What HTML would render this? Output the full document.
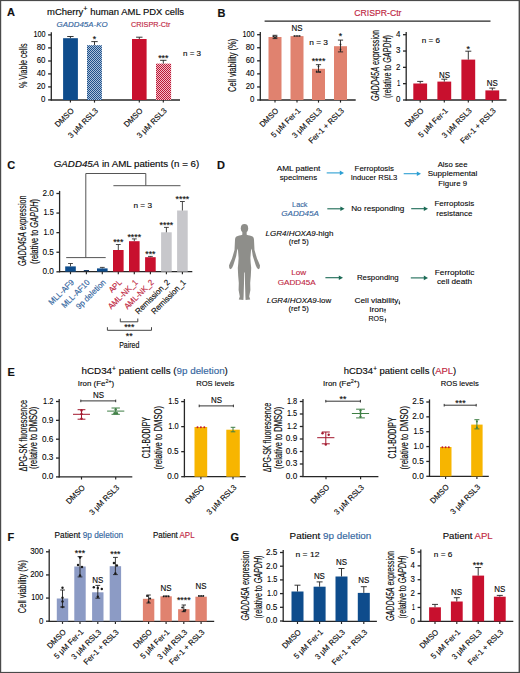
<!DOCTYPE html>
<html><head><meta charset="utf-8"><style>
html,body{margin:0;padding:0;background:#fff;}
svg{display:block;font-family:"Liberation Sans", sans-serif;}
</style></head><body>
<svg width="520" height="673" viewBox="0 0 520 673">
<defs>
<pattern id="hb" width="2" height="2" patternUnits="userSpaceOnUse"><rect width="2" height="2" fill="#a9c1dc"/><rect width="1" height="1" fill="#1f4f88"/><rect x="1" y="1" width="1" height="1" fill="#1f4f88"/></pattern>
<pattern id="rb" width="2" height="2" patternUnits="userSpaceOnUse"><rect width="2" height="2" fill="#f6bcc8"/><rect width="1" height="1" fill="#b81a36"/><rect x="1" y="1" width="1" height="1" fill="#b81a36"/></pattern>
</defs>
<rect x="0" y="0" width="520" height="673" fill="#fff"/>
<text x="7.00" y="16.20" font-size="11" fill="#111" font-weight="bold" stroke="#111" stroke-width="0.15">A</text>
<text x="47.00" y="14.90" font-size="8.4" textLength="137.00" lengthAdjust="spacingAndGlyphs" stroke="#2a2a2a" stroke-width="0.15">mCherry<tspan font-size="6.5" dy="-3.6">+</tspan><tspan dy="3.6"> human AML PDX cells</tspan></text>
<text x="56.60" y="26.50" font-size="8.0" fill="#3466a0" font-style="italic" textLength="51.00" lengthAdjust="spacingAndGlyphs" stroke="#3466a0" stroke-width="0.15">GADD45A-KO</text>
<text x="131.10" y="26.50" font-size="8.0" fill="#c0263f" textLength="39.40" lengthAdjust="spacingAndGlyphs" stroke="#c0263f" stroke-width="0.15">CRISPR-Ctr</text>
<line x1="51.30" y1="32.30" x2="51.30" y2="100.50" stroke="#262626" stroke-width="1.3"/>
<line x1="48.10" y1="34.90" x2="51.30" y2="34.90" stroke="#262626" stroke-width="1.3"/>
<text x="45.50" y="37.28" font-size="8.6" text-anchor="end" textLength="12.10" lengthAdjust="spacingAndGlyphs" stroke="#2a2a2a" stroke-width="0.12">100</text>
<line x1="48.10" y1="47.90" x2="51.30" y2="47.90" stroke="#262626" stroke-width="1.3"/>
<text x="45.50" y="50.28" font-size="8.6" text-anchor="end" textLength="8.80" lengthAdjust="spacingAndGlyphs" stroke="#2a2a2a" stroke-width="0.12">80</text>
<line x1="48.10" y1="61.00" x2="51.30" y2="61.00" stroke="#262626" stroke-width="1.3"/>
<text x="45.50" y="63.38" font-size="8.6" text-anchor="end" textLength="8.80" lengthAdjust="spacingAndGlyphs" stroke="#2a2a2a" stroke-width="0.12">60</text>
<line x1="48.10" y1="73.90" x2="51.30" y2="73.90" stroke="#262626" stroke-width="1.3"/>
<text x="45.50" y="76.28" font-size="8.6" text-anchor="end" textLength="8.80" lengthAdjust="spacingAndGlyphs" stroke="#2a2a2a" stroke-width="0.12">40</text>
<line x1="48.10" y1="86.90" x2="51.30" y2="86.90" stroke="#262626" stroke-width="1.3"/>
<text x="45.50" y="89.28" font-size="8.6" text-anchor="end" textLength="8.80" lengthAdjust="spacingAndGlyphs" stroke="#2a2a2a" stroke-width="0.12">20</text>
<line x1="48.10" y1="99.90" x2="51.30" y2="99.90" stroke="#262626" stroke-width="1.3"/>
<text x="45.50" y="102.28" font-size="8.6" text-anchor="end" textLength="4.40" lengthAdjust="spacingAndGlyphs" stroke="#2a2a2a" stroke-width="0.12">0</text>
<text x="27.00" y="65.80" font-size="10.6" text-anchor="middle" textLength="44.60" lengthAdjust="spacingAndGlyphs" transform="rotate(-90 27.00 65.80)" stroke="#2a2a2a" stroke-width="0.15">% Viable cells</text>
<line x1="50.80" y1="100.00" x2="180.00" y2="100.00" stroke="#262626" stroke-width="1.3"/>
<line x1="70.40" y1="100.00" x2="70.40" y2="102.60" stroke="#262626" stroke-width="1.1700000000000002"/>
<line x1="94.50" y1="100.00" x2="94.50" y2="102.60" stroke="#262626" stroke-width="1.1700000000000002"/>
<line x1="139.30" y1="100.00" x2="139.30" y2="102.60" stroke="#262626" stroke-width="1.1700000000000002"/>
<line x1="163.30" y1="100.00" x2="163.30" y2="102.60" stroke="#262626" stroke-width="1.1700000000000002"/>
<rect x="63.10" y="38.20" width="14.80" height="61.80" fill="#0e4c8c"/>
<line x1="70.40" y1="36.50" x2="70.40" y2="38.20" stroke="#222" stroke-width="0.9"/>
<line x1="67.20" y1="36.50" x2="73.60" y2="36.50" stroke="#222" stroke-width="0.9"/>
<rect x="87.00" y="45.20" width="14.90" height="54.80" fill="url(#hb)"/>
<line x1="94.50" y1="41.60" x2="94.50" y2="45.20" stroke="#222" stroke-width="0.9"/>
<line x1="91.30" y1="41.60" x2="97.70" y2="41.60" stroke="#222" stroke-width="0.9"/>
<text x="94.50" y="42.08" font-size="8.8" text-anchor="middle" stroke="#2a2a2a" stroke-width="0.15">*</text>
<rect x="132.00" y="39.00" width="14.60" height="61.00" fill="#c8102e"/>
<line x1="139.30" y1="37.20" x2="139.30" y2="39.00" stroke="#222" stroke-width="0.9"/>
<line x1="136.10" y1="37.20" x2="142.50" y2="37.20" stroke="#222" stroke-width="0.9"/>
<rect x="156.00" y="63.60" width="15.10" height="36.40" fill="url(#rb)"/>
<line x1="163.30" y1="60.30" x2="163.30" y2="63.60" stroke="#222" stroke-width="0.9"/>
<line x1="160.10" y1="60.30" x2="166.50" y2="60.30" stroke="#222" stroke-width="0.9"/>
<text x="163.30" y="61.08" font-size="8.8" text-anchor="middle" stroke="#2a2a2a" stroke-width="0.15">***</text>
<text x="183.00" y="55.80" font-size="7.6" textLength="18.00" lengthAdjust="spacingAndGlyphs" stroke="#2a2a2a" stroke-width="0.15">n = 3</text>
<text x="74.40" y="111.30" font-size="8.0" text-anchor="end" textLength="23.04" lengthAdjust="spacingAndGlyphs" transform="rotate(-45 74.40 111.30)" stroke="#2a2a2a" stroke-width="0.15">DMSO</text>
<text x="98.50" y="111.30" font-size="8.0" text-anchor="end" textLength="38.57" lengthAdjust="spacingAndGlyphs" transform="rotate(-45 98.50 111.30)" stroke="#2a2a2a" stroke-width="0.15">3 μM RSL3</text>
<text x="143.30" y="111.30" font-size="8.0" text-anchor="end" textLength="23.04" lengthAdjust="spacingAndGlyphs" transform="rotate(-45 143.30 111.30)" stroke="#2a2a2a" stroke-width="0.15">DMSO</text>
<text x="167.30" y="111.30" font-size="8.0" text-anchor="end" textLength="38.57" lengthAdjust="spacingAndGlyphs" transform="rotate(-45 167.30 111.30)" stroke="#2a2a2a" stroke-width="0.15">3 μM RSL3</text>
<text x="217.40" y="17.30" font-size="11" fill="#111" font-weight="bold" stroke="#111" stroke-width="0.15">B</text>
<text x="354.20" y="15.80" font-size="9.2" fill="#c0263f" textLength="47.30" lengthAdjust="spacingAndGlyphs" stroke="#c0263f" stroke-width="0.15">CRISPR-Ctr</text>
<line x1="264.60" y1="21.10" x2="490.50" y2="21.10" stroke="#262626" stroke-width="1.1"/>
<line x1="260.30" y1="32.10" x2="260.30" y2="100.50" stroke="#262626" stroke-width="1.3"/>
<line x1="257.10" y1="34.70" x2="260.30" y2="34.70" stroke="#262626" stroke-width="1.3"/>
<text x="254.50" y="37.08" font-size="8.6" text-anchor="end" textLength="12.10" lengthAdjust="spacingAndGlyphs" stroke="#2a2a2a" stroke-width="0.12">100</text>
<line x1="257.10" y1="47.76" x2="260.30" y2="47.76" stroke="#262626" stroke-width="1.3"/>
<text x="254.50" y="50.14" font-size="8.6" text-anchor="end" textLength="8.80" lengthAdjust="spacingAndGlyphs" stroke="#2a2a2a" stroke-width="0.12">80</text>
<line x1="257.10" y1="60.82" x2="260.30" y2="60.82" stroke="#262626" stroke-width="1.3"/>
<text x="254.50" y="63.20" font-size="8.6" text-anchor="end" textLength="8.80" lengthAdjust="spacingAndGlyphs" stroke="#2a2a2a" stroke-width="0.12">60</text>
<line x1="257.10" y1="73.88" x2="260.30" y2="73.88" stroke="#262626" stroke-width="1.3"/>
<text x="254.50" y="76.26" font-size="8.6" text-anchor="end" textLength="8.80" lengthAdjust="spacingAndGlyphs" stroke="#2a2a2a" stroke-width="0.12">40</text>
<line x1="257.10" y1="86.94" x2="260.30" y2="86.94" stroke="#262626" stroke-width="1.3"/>
<text x="254.50" y="89.32" font-size="8.6" text-anchor="end" textLength="8.80" lengthAdjust="spacingAndGlyphs" stroke="#2a2a2a" stroke-width="0.12">20</text>
<line x1="257.10" y1="100.00" x2="260.30" y2="100.00" stroke="#262626" stroke-width="1.3"/>
<text x="254.50" y="102.38" font-size="8.6" text-anchor="end" textLength="4.40" lengthAdjust="spacingAndGlyphs" stroke="#2a2a2a" stroke-width="0.12">0</text>
<text x="235.80" y="65.40" font-size="10.2" text-anchor="middle" textLength="53.20" lengthAdjust="spacingAndGlyphs" transform="rotate(-90 235.80 65.40)" stroke="#2a2a2a" stroke-width="0.15">Cell viability (%)</text>
<line x1="259.80" y1="100.00" x2="355.70" y2="100.00" stroke="#262626" stroke-width="1.3"/>
<line x1="275.00" y1="100.00" x2="275.00" y2="102.60" stroke="#262626" stroke-width="1.1700000000000002"/>
<line x1="297.00" y1="100.00" x2="297.00" y2="102.60" stroke="#262626" stroke-width="1.1700000000000002"/>
<line x1="318.50" y1="100.00" x2="318.50" y2="102.60" stroke="#262626" stroke-width="1.1700000000000002"/>
<line x1="340.50" y1="100.00" x2="340.50" y2="102.60" stroke="#262626" stroke-width="1.1700000000000002"/>
<rect x="268.50" y="37.00" width="13.00" height="63.00" fill="#e0826f"/>
<rect x="290.50" y="36.10" width="13.00" height="63.90" fill="#e0826f"/>
<rect x="312.00" y="68.80" width="13.00" height="31.20" fill="#e0826f"/>
<rect x="334.00" y="46.20" width="13.00" height="53.80" fill="#e0826f"/>
<line x1="275.00" y1="35.30" x2="275.00" y2="38.60" stroke="#222" stroke-width="0.9"/>
<line x1="272.60" y1="35.30" x2="277.40" y2="35.30" stroke="#222" stroke-width="0.9"/>
<line x1="272.60" y1="38.60" x2="277.40" y2="38.60" stroke="#222" stroke-width="0.9"/>
<circle cx="273.40" cy="36.50" r="0.9" fill="#222"/>
<circle cx="275.00" cy="37.50" r="0.9" fill="#222"/>
<circle cx="276.60" cy="36.80" r="0.9" fill="#222"/>
<line x1="293.50" y1="36.00" x2="300.50" y2="36.00" stroke="#222" stroke-width="0.9"/>
<circle cx="294.50" cy="36.00" r="0.8" fill="#222"/>
<circle cx="297.00" cy="36.00" r="0.8" fill="#222"/>
<circle cx="299.50" cy="36.00" r="0.8" fill="#222"/>
<line x1="318.50" y1="64.70" x2="318.50" y2="72.20" stroke="#222" stroke-width="0.9"/>
<line x1="315.90" y1="64.70" x2="321.10" y2="64.70" stroke="#222" stroke-width="0.9"/>
<line x1="315.90" y1="72.20" x2="321.10" y2="72.20" stroke="#222" stroke-width="0.9"/>
<circle cx="316.70" cy="71.50" r="0.9" fill="#222"/>
<circle cx="320.00" cy="71.80" r="0.9" fill="#222"/>
<circle cx="318.50" cy="66.50" r="0.9" fill="#222"/>
<line x1="340.50" y1="40.10" x2="340.50" y2="51.90" stroke="#222" stroke-width="0.9"/>
<line x1="337.90" y1="40.10" x2="343.10" y2="40.10" stroke="#222" stroke-width="0.9"/>
<line x1="337.90" y1="51.90" x2="343.10" y2="51.90" stroke="#222" stroke-width="0.9"/>
<circle cx="340.50" cy="44.50" r="0.9" fill="#222"/>
<circle cx="340.50" cy="49.50" r="0.9" fill="#222"/>
<text x="297.00" y="30.90" font-size="8.2" text-anchor="middle" textLength="11.00" lengthAdjust="spacingAndGlyphs" stroke="#2a2a2a" stroke-width="0.15">NS</text>
<text x="318.50" y="63.78" font-size="8.8" text-anchor="middle" stroke="#2a2a2a" stroke-width="0.15">****</text>
<text x="340.50" y="39.08" font-size="8.8" text-anchor="middle" stroke="#2a2a2a" stroke-width="0.15">*</text>
<text x="309.20" y="45.20" font-size="7.8" textLength="18.80" lengthAdjust="spacingAndGlyphs" stroke="#2a2a2a" stroke-width="0.15">n = 3</text>
<text x="279.00" y="111.30" font-size="8.0" text-anchor="end" textLength="23.04" lengthAdjust="spacingAndGlyphs" transform="rotate(-45 279.00 111.30)" stroke="#2a2a2a" stroke-width="0.15">DMSO</text>
<text x="301.00" y="111.30" font-size="8.0" text-anchor="end" textLength="37.71" lengthAdjust="spacingAndGlyphs" transform="rotate(-45 301.00 111.30)" stroke="#2a2a2a" stroke-width="0.15">5 μM Fer-1</text>
<text x="322.50" y="111.30" font-size="8.0" text-anchor="end" textLength="38.57" lengthAdjust="spacingAndGlyphs" transform="rotate(-45 322.50 111.30)" stroke="#2a2a2a" stroke-width="0.15">3 μM RSL3</text>
<text x="344.50" y="111.30" font-size="8.0" text-anchor="end" textLength="46.31" lengthAdjust="spacingAndGlyphs" transform="rotate(-45 344.50 111.30)" stroke="#2a2a2a" stroke-width="0.15">Fer-1 + RSL3</text>
<line x1="406.20" y1="32.10" x2="406.20" y2="100.50" stroke="#262626" stroke-width="1.3"/>
<line x1="403.00" y1="34.70" x2="406.20" y2="34.70" stroke="#262626" stroke-width="1.3"/>
<text x="400.40" y="37.08" font-size="8.6" text-anchor="end" textLength="4.40" lengthAdjust="spacingAndGlyphs" stroke="#2a2a2a" stroke-width="0.12">4</text>
<line x1="403.00" y1="51.03" x2="406.20" y2="51.03" stroke="#262626" stroke-width="1.3"/>
<text x="400.40" y="53.40" font-size="8.6" text-anchor="end" textLength="4.40" lengthAdjust="spacingAndGlyphs" stroke="#2a2a2a" stroke-width="0.12">3</text>
<line x1="403.00" y1="67.35" x2="406.20" y2="67.35" stroke="#262626" stroke-width="1.3"/>
<text x="400.40" y="69.73" font-size="8.6" text-anchor="end" textLength="4.40" lengthAdjust="spacingAndGlyphs" stroke="#2a2a2a" stroke-width="0.12">2</text>
<line x1="403.00" y1="83.67" x2="406.20" y2="83.67" stroke="#262626" stroke-width="1.3"/>
<text x="400.40" y="86.05" font-size="8.6" text-anchor="end" textLength="3.30" lengthAdjust="spacingAndGlyphs" stroke="#2a2a2a" stroke-width="0.12">1</text>
<line x1="403.00" y1="100.00" x2="406.20" y2="100.00" stroke="#262626" stroke-width="1.3"/>
<text x="400.40" y="102.38" font-size="8.6" text-anchor="end" textLength="4.40" lengthAdjust="spacingAndGlyphs" stroke="#2a2a2a" stroke-width="0.12">0</text>
<text x="378.60" y="65.40" font-size="10.0" text-anchor="middle" textLength="71.00" lengthAdjust="spacingAndGlyphs" transform="rotate(-90 378.60 65.40)" stroke="#2a2a2a" stroke-width="0.15"><tspan font-style="italic">GADD45A</tspan> expression</text>
<text x="390.60" y="66.50" font-size="10.0" text-anchor="middle" textLength="63.00" lengthAdjust="spacingAndGlyphs" transform="rotate(-90 390.60 66.50)" stroke="#2a2a2a" stroke-width="0.15">(relative to <tspan font-style="italic">GAPDH</tspan>)</text>
<line x1="405.70" y1="100.00" x2="506.50" y2="100.00" stroke="#262626" stroke-width="1.3"/>
<line x1="420.20" y1="100.00" x2="420.20" y2="102.60" stroke="#262626" stroke-width="1.1700000000000002"/>
<line x1="444.30" y1="100.00" x2="444.30" y2="102.60" stroke="#262626" stroke-width="1.1700000000000002"/>
<line x1="468.30" y1="100.00" x2="468.30" y2="102.60" stroke="#262626" stroke-width="1.1700000000000002"/>
<line x1="492.30" y1="100.00" x2="492.30" y2="102.60" stroke="#262626" stroke-width="1.1700000000000002"/>
<rect x="413.30" y="83.50" width="13.80" height="16.50" fill="#c8102e"/>
<line x1="420.20" y1="81.40" x2="420.20" y2="83.50" stroke="#222" stroke-width="0.9"/>
<line x1="417.20" y1="81.40" x2="423.20" y2="81.40" stroke="#222" stroke-width="0.9"/>
<rect x="437.40" y="81.60" width="13.80" height="18.40" fill="#c8102e"/>
<line x1="444.30" y1="79.20" x2="444.30" y2="81.60" stroke="#222" stroke-width="0.9"/>
<line x1="441.30" y1="79.20" x2="447.30" y2="79.20" stroke="#222" stroke-width="0.9"/>
<rect x="461.40" y="59.60" width="13.80" height="40.40" fill="#c8102e"/>
<line x1="468.30" y1="51.20" x2="468.30" y2="59.60" stroke="#222" stroke-width="0.9"/>
<line x1="465.30" y1="51.20" x2="471.30" y2="51.20" stroke="#222" stroke-width="0.9"/>
<rect x="485.40" y="90.40" width="13.80" height="9.60" fill="#c8102e"/>
<line x1="492.30" y1="88.10" x2="492.30" y2="90.40" stroke="#222" stroke-width="0.9"/>
<line x1="489.30" y1="88.10" x2="495.30" y2="88.10" stroke="#222" stroke-width="0.9"/>
<text x="421.80" y="42.80" font-size="7.8" textLength="18.20" lengthAdjust="spacingAndGlyphs" stroke="#2a2a2a" stroke-width="0.15">n = 6</text>
<text x="444.60" y="77.80" font-size="8.2" text-anchor="middle" textLength="11.00" lengthAdjust="spacingAndGlyphs" stroke="#2a2a2a" stroke-width="0.15">NS</text>
<text x="468.30" y="51.88" font-size="8.8" text-anchor="middle" stroke="#2a2a2a" stroke-width="0.15">*</text>
<text x="492.30" y="86.30" font-size="8.2" text-anchor="middle" textLength="11.00" lengthAdjust="spacingAndGlyphs" stroke="#2a2a2a" stroke-width="0.15">NS</text>
<text x="424.20" y="111.30" font-size="8.0" text-anchor="end" textLength="23.04" lengthAdjust="spacingAndGlyphs" transform="rotate(-45 424.20 111.30)" stroke="#2a2a2a" stroke-width="0.15">DMSO</text>
<text x="448.30" y="111.30" font-size="8.0" text-anchor="end" textLength="37.71" lengthAdjust="spacingAndGlyphs" transform="rotate(-45 448.30 111.30)" stroke="#2a2a2a" stroke-width="0.15">5 μM Fer-1</text>
<text x="472.30" y="111.30" font-size="8.0" text-anchor="end" textLength="38.57" lengthAdjust="spacingAndGlyphs" transform="rotate(-45 472.30 111.30)" stroke="#2a2a2a" stroke-width="0.15">3 μM RSL3</text>
<text x="496.30" y="111.30" font-size="8.0" text-anchor="end" textLength="46.31" lengthAdjust="spacingAndGlyphs" transform="rotate(-45 496.30 111.30)" stroke="#2a2a2a" stroke-width="0.15">Fer-1 + RSL3</text>
<text x="7.20" y="169.30" font-size="11" fill="#111" font-weight="bold" stroke="#111" stroke-width="0.15">C</text>
<text x="53.80" y="167.40" font-size="8.6" textLength="145.40" lengthAdjust="spacingAndGlyphs" stroke="#2a2a2a" stroke-width="0.15"><tspan font-style="italic">GADD45A</tspan> in AML patients (n = 6)</text>
<path d="M85.8,257.6 V173.5 H145.8 V185.7" fill="none" stroke="#555" stroke-width="1.0" />
<line x1="113.40" y1="185.70" x2="180.50" y2="185.70" stroke="#555" stroke-width="1.0"/>
<line x1="66.20" y1="257.60" x2="105.70" y2="257.60" stroke="#555" stroke-width="1.0"/>
<line x1="59.60" y1="190.90" x2="59.60" y2="272.30" stroke="#262626" stroke-width="1.3"/>
<line x1="56.40" y1="193.50" x2="59.60" y2="193.50" stroke="#262626" stroke-width="1.3"/>
<text x="53.80" y="195.88" font-size="8.6" text-anchor="end" textLength="11.40" lengthAdjust="spacingAndGlyphs" stroke="#2a2a2a" stroke-width="0.12">2.0</text>
<line x1="56.40" y1="213.07" x2="59.60" y2="213.07" stroke="#262626" stroke-width="1.3"/>
<text x="53.80" y="215.45" font-size="8.6" text-anchor="end" textLength="10.30" lengthAdjust="spacingAndGlyphs" stroke="#2a2a2a" stroke-width="0.12">1.5</text>
<line x1="56.40" y1="232.65" x2="59.60" y2="232.65" stroke="#262626" stroke-width="1.3"/>
<text x="53.80" y="235.03" font-size="8.6" text-anchor="end" textLength="10.30" lengthAdjust="spacingAndGlyphs" stroke="#2a2a2a" stroke-width="0.12">1.0</text>
<line x1="56.40" y1="252.23" x2="59.60" y2="252.23" stroke="#262626" stroke-width="1.3"/>
<text x="53.80" y="254.60" font-size="8.6" text-anchor="end" textLength="11.40" lengthAdjust="spacingAndGlyphs" stroke="#2a2a2a" stroke-width="0.12">0.5</text>
<line x1="56.40" y1="271.80" x2="59.60" y2="271.80" stroke="#262626" stroke-width="1.3"/>
<text x="53.80" y="274.18" font-size="8.6" text-anchor="end" textLength="11.40" lengthAdjust="spacingAndGlyphs" stroke="#2a2a2a" stroke-width="0.12">0.0</text>
<text x="26.30" y="230.70" font-size="10.0" text-anchor="middle" textLength="70.60" lengthAdjust="spacingAndGlyphs" transform="rotate(-90 26.30 230.70)" stroke="#2a2a2a" stroke-width="0.15"><tspan font-style="italic">GADD45A</tspan> expression</text>
<text x="37.60" y="231.50" font-size="10.0" text-anchor="middle" textLength="65.00" lengthAdjust="spacingAndGlyphs" transform="rotate(-90 37.60 231.50)" stroke="#2a2a2a" stroke-width="0.15">(relative to <tspan font-style="italic">GAPDH</tspan>)</text>
<line x1="59.10" y1="271.60" x2="192.30" y2="271.60" stroke="#262626" stroke-width="1.3"/>
<line x1="70.50" y1="271.60" x2="70.50" y2="274.20" stroke="#262626" stroke-width="1.1700000000000002"/>
<line x1="86.40" y1="271.60" x2="86.40" y2="274.20" stroke="#262626" stroke-width="1.1700000000000002"/>
<line x1="102.30" y1="271.60" x2="102.30" y2="274.20" stroke="#262626" stroke-width="1.1700000000000002"/>
<line x1="118.30" y1="271.60" x2="118.30" y2="274.20" stroke="#262626" stroke-width="1.1700000000000002"/>
<line x1="134.30" y1="271.60" x2="134.30" y2="274.20" stroke="#262626" stroke-width="1.1700000000000002"/>
<line x1="150.40" y1="271.60" x2="150.40" y2="274.20" stroke="#262626" stroke-width="1.1700000000000002"/>
<line x1="166.40" y1="271.60" x2="166.40" y2="274.20" stroke="#262626" stroke-width="1.1700000000000002"/>
<line x1="182.40" y1="271.60" x2="182.40" y2="274.20" stroke="#262626" stroke-width="1.1700000000000002"/>
<rect x="65.20" y="266.40" width="10.60" height="5.20" fill="#0e4c8c"/>
<line x1="70.50" y1="263.50" x2="70.50" y2="266.40" stroke="#333" stroke-width="0.9"/>
<line x1="68.10" y1="263.50" x2="72.90" y2="263.50" stroke="#333" stroke-width="0.9"/>
<rect x="83.80" y="270.00" width="5.20" height="1.20" fill="#1d3f6a"/>
<rect x="97.00" y="268.40" width="10.60" height="3.20" fill="#0e4c8c"/>
<line x1="102.30" y1="267.40" x2="102.30" y2="268.40" stroke="#333" stroke-width="0.9"/>
<line x1="99.90" y1="267.40" x2="104.70" y2="267.40" stroke="#333" stroke-width="0.9"/>
<rect x="113.00" y="250.00" width="10.60" height="21.60" fill="#c8102e"/>
<line x1="118.30" y1="244.50" x2="118.30" y2="250.00" stroke="#333" stroke-width="0.9"/>
<line x1="115.90" y1="244.50" x2="120.70" y2="244.50" stroke="#333" stroke-width="0.9"/>
<rect x="129.00" y="241.20" width="10.60" height="30.40" fill="#c8102e"/>
<line x1="134.30" y1="238.90" x2="134.30" y2="241.20" stroke="#333" stroke-width="0.9"/>
<line x1="131.90" y1="238.90" x2="136.70" y2="238.90" stroke="#333" stroke-width="0.9"/>
<rect x="145.10" y="257.20" width="10.60" height="14.40" fill="#c8102e"/>
<line x1="150.40" y1="256.40" x2="150.40" y2="257.20" stroke="#333" stroke-width="0.9"/>
<line x1="148.00" y1="256.40" x2="152.80" y2="256.40" stroke="#333" stroke-width="0.9"/>
<rect x="161.10" y="232.30" width="10.60" height="39.30" fill="#c7c7cb"/>
<line x1="166.40" y1="227.40" x2="166.40" y2="232.30" stroke="#333" stroke-width="0.9"/>
<line x1="164.00" y1="227.40" x2="168.80" y2="227.40" stroke="#333" stroke-width="0.9"/>
<rect x="177.10" y="210.50" width="10.60" height="61.10" fill="#c7c7cb"/>
<line x1="182.40" y1="201.50" x2="182.40" y2="210.50" stroke="#333" stroke-width="0.9"/>
<line x1="180.00" y1="201.50" x2="184.80" y2="201.50" stroke="#333" stroke-width="0.9"/>
<text x="118.30" y="244.58" font-size="8.8" text-anchor="middle" stroke="#2a2a2a" stroke-width="0.15">***</text>
<text x="134.30" y="239.58" font-size="8.8" text-anchor="middle" stroke="#2a2a2a" stroke-width="0.15">****</text>
<text x="150.40" y="256.88" font-size="8.8" text-anchor="middle" stroke="#2a2a2a" stroke-width="0.15">***</text>
<text x="166.40" y="228.08" font-size="8.8" text-anchor="middle" stroke="#2a2a2a" stroke-width="0.15">****</text>
<text x="182.40" y="202.28" font-size="8.8" text-anchor="middle" stroke="#2a2a2a" stroke-width="0.15">****</text>
<text x="133.50" y="208.20" font-size="7.8" textLength="18.50" lengthAdjust="spacingAndGlyphs" stroke="#2a2a2a" stroke-width="0.15">n = 3</text>
<text x="74.50" y="282.90" font-size="8.2" text-anchor="end" fill="#3466a0" textLength="32.04" lengthAdjust="spacingAndGlyphs" transform="rotate(-45 74.50 282.90)" stroke="#3466a0" stroke-width="0.15">MLL-AF9</text>
<text x="90.40" y="282.90" font-size="8.2" text-anchor="end" fill="#3466a0" textLength="36.37" lengthAdjust="spacingAndGlyphs" transform="rotate(-45 90.40 282.90)" stroke="#3466a0" stroke-width="0.15">MLL-AF10</text>
<text x="106.30" y="282.90" font-size="8.2" text-anchor="end" fill="#3466a0" textLength="38.12" lengthAdjust="spacingAndGlyphs" transform="rotate(-45 106.30 282.90)" stroke="#3466a0" stroke-width="0.15">9p deletion</text>
<text x="122.30" y="282.90" font-size="8.2" text-anchor="end" fill="#c0263f" textLength="14.72" lengthAdjust="spacingAndGlyphs" transform="rotate(-45 122.30 282.90)" stroke="#c0263f" stroke-width="0.15">APL</text>
<text x="138.30" y="282.90" font-size="8.2" text-anchor="end" fill="#c0263f" textLength="38.10" lengthAdjust="spacingAndGlyphs" transform="rotate(-45 138.30 282.90)" stroke="#c0263f" stroke-width="0.15">AML-NK_1</text>
<text x="154.40" y="282.90" font-size="8.2" text-anchor="end" fill="#c0263f" textLength="38.10" lengthAdjust="spacingAndGlyphs" transform="rotate(-45 154.40 282.90)" stroke="#c0263f" stroke-width="0.15">AML-NK_2</text>
<text x="170.40" y="282.90" font-size="8.2" text-anchor="end" textLength="45.03" lengthAdjust="spacingAndGlyphs" transform="rotate(-45 170.40 282.90)" stroke="#2a2a2a" stroke-width="0.15">Remission_2</text>
<text x="186.40" y="282.90" font-size="8.2" text-anchor="end" textLength="45.03" lengthAdjust="spacingAndGlyphs" transform="rotate(-45 186.40 282.90)" stroke="#2a2a2a" stroke-width="0.15">Remission_1</text>
<path d="M120.3,318.5 V321.8 H137.8 V318.5" fill="none" stroke="#444" stroke-width="1.0" />
<text x="129.30" y="330.48" font-size="8.8" text-anchor="middle" stroke="#2a2a2a" stroke-width="0.15">***</text>
<path d="M107.4,327.2 V330.3 H151.5 V327.2" fill="none" stroke="#444" stroke-width="1.0" />
<text x="129.30" y="339.18" font-size="8.8" text-anchor="middle" stroke="#2a2a2a" stroke-width="0.15">**</text>
<text x="119.20" y="348.30" font-size="8.6" textLength="20.20" lengthAdjust="spacingAndGlyphs" stroke="#2a2a2a" stroke-width="0.15">Paired</text>
<text x="216.90" y="169.30" font-size="11" fill="#111" font-weight="bold" stroke="#111" stroke-width="0.15">D</text>
<text x="298.50" y="170.80" font-size="8.0" text-anchor="middle" textLength="43.70" lengthAdjust="spacingAndGlyphs" stroke="#2a2a2a" stroke-width="0.12">AML patient</text>
<text x="298.40" y="179.60" font-size="8.0" text-anchor="middle" textLength="37.50" lengthAdjust="spacingAndGlyphs" stroke="#2a2a2a" stroke-width="0.12">specimens</text>
<line x1="326.70" y1="172.90" x2="340.50" y2="172.90" stroke="#2c9fd3" stroke-width="1.1"/>
<path d="M344.00,172.90 L339.80,170.60 L339.80,175.20 Z" fill="#2c9fd3" />
<text x="374.30" y="170.80" font-size="8.0" text-anchor="middle" textLength="39.40" lengthAdjust="spacingAndGlyphs" stroke="#2a2a2a" stroke-width="0.12">Ferroptosis</text>
<text x="374.00" y="179.60" font-size="8.0" text-anchor="middle" textLength="46.50" lengthAdjust="spacingAndGlyphs" stroke="#2a2a2a" stroke-width="0.12">Inducer RSL3</text>
<line x1="403.70" y1="173.70" x2="417.50" y2="173.70" stroke="#2c9fd3" stroke-width="1.1"/>
<path d="M421.00,173.70 L416.80,171.40 L416.80,176.00 Z" fill="#2c9fd3" />
<text x="452.60" y="166.70" font-size="8.0" text-anchor="middle" textLength="29.80" lengthAdjust="spacingAndGlyphs" stroke="#2a2a2a" stroke-width="0.12">Also see</text>
<text x="452.50" y="176.00" font-size="8.0" text-anchor="middle" textLength="49.60" lengthAdjust="spacingAndGlyphs" stroke="#2a2a2a" stroke-width="0.12">Supplemental</text>
<text x="452.70" y="185.60" font-size="8.0" text-anchor="middle" textLength="28.80" lengthAdjust="spacingAndGlyphs" stroke="#2a2a2a" stroke-width="0.12">Figure 9</text>
<text x="299.80" y="206.50" font-size="8.0" text-anchor="middle" fill="#3466a0" textLength="15.40" lengthAdjust="spacingAndGlyphs" stroke="#3466a0" stroke-width="0.12">Lack</text>
<text x="300.10" y="215.80" font-size="8.0" text-anchor="middle" fill="#3466a0" font-style="italic" textLength="37.80" lengthAdjust="spacingAndGlyphs" stroke="#3466a0" stroke-width="0.12">GADD45A</text>
<line x1="327.30" y1="208.80" x2="341.10" y2="208.80" stroke="#1b6a55" stroke-width="1.1"/>
<path d="M344.60,208.80 L340.40,206.50 L340.40,211.10 Z" fill="#1b6a55" />
<text x="377.80" y="211.20" font-size="8.0" text-anchor="middle" textLength="53.20" lengthAdjust="spacingAndGlyphs" stroke="#2a2a2a" stroke-width="0.12">No responding</text>
<line x1="411.20" y1="208.70" x2="424.50" y2="208.70" stroke="#1b6a55" stroke-width="1.1"/>
<path d="M428.00,208.70 L423.80,206.40 L423.80,211.00 Z" fill="#1b6a55" />
<text x="454.30" y="206.30" font-size="8.0" text-anchor="middle" textLength="39.80" lengthAdjust="spacingAndGlyphs" stroke="#2a2a2a" stroke-width="0.12">Ferroptosis</text>
<text x="454.30" y="216.00" font-size="8.0" text-anchor="middle" textLength="36.00" lengthAdjust="spacingAndGlyphs" stroke="#2a2a2a" stroke-width="0.12">resistance</text>
<text x="299.50" y="235.60" font-size="8.0" text-anchor="middle" textLength="67.90" lengthAdjust="spacingAndGlyphs" stroke="#2a2a2a" stroke-width="0.12"><tspan font-style="italic">LGR4</tspan>/<tspan font-style="italic">HOXA9</tspan>-high</text>
<text x="298.70" y="243.80" font-size="8.0" text-anchor="middle" textLength="20.10" lengthAdjust="spacingAndGlyphs" stroke="#2a2a2a" stroke-width="0.12">(ref 5)</text>
<ellipse cx="244.5" cy="228.3" rx="3.7" ry="4.4" fill="#8e8e8a"/>
<path d="M242.40,231.50 L242.30,234.80 C240.50,235.50 238.00,235.80 236.50,236.60 C235.40,237.30 235.10,238.50 235.00,240.00 L234.50,250.00 L232.00,258.50 L230.20,262.50 L229.00,265.50 L229.30,268.20 L230.60,269.20 L232.00,268.00 L233.20,265.50 L234.00,263.00 L236.20,256.00 L237.40,248.50 L238.00,250.50 L238.60,258.00 L238.30,263.00 L237.80,268.00 L238.20,276.00 L238.80,283.00 L238.60,290.00 L239.80,296.50 L238.80,299.40 L243.40,300.00 L243.60,296.50 L244.00,283.00 L244.20,272.60 L244.80,272.60 L245.00,283.00 L245.40,296.50 L245.60,300.00 L250.20,299.40 L249.20,296.50 L250.40,290.00 L250.20,283.00 L250.80,276.00 L251.20,268.00 L250.70,263.00 L250.40,258.00 L251.00,250.50 L251.60,248.50 L252.80,256.00 L255.00,263.00 L255.80,265.50 L257.00,268.00 L258.40,269.20 L259.70,268.20 L260.00,265.50 L258.80,262.50 L257.00,258.50 L254.50,250.00 L254.00,240.00 C253.90,238.50 253.60,237.30 252.50,236.60 C251.00,235.80 248.50,235.50 246.70,234.80 L246.60,231.50 Z" fill="#8e8e8a" />
<text x="298.70" y="275.40" font-size="8.0" text-anchor="middle" fill="#c0263f" textLength="15.00" lengthAdjust="spacingAndGlyphs" stroke="#c0263f" stroke-width="0.12">Low</text>
<text x="296.70" y="285.00" font-size="8.0" text-anchor="middle" fill="#c0263f" textLength="38.10" lengthAdjust="spacingAndGlyphs" stroke="#c0263f" stroke-width="0.12">GADD45A</text>
<line x1="325.40" y1="277.70" x2="339.50" y2="277.70" stroke="#1b6a55" stroke-width="1.1"/>
<path d="M343.00,277.70 L338.80,275.40 L338.80,280.00 Z" fill="#1b6a55" />
<text x="377.80" y="280.20" font-size="8.0" text-anchor="middle" textLength="41.80" lengthAdjust="spacingAndGlyphs" stroke="#2a2a2a" stroke-width="0.12">Responding</text>
<line x1="410.80" y1="277.90" x2="424.50" y2="277.90" stroke="#1b6a55" stroke-width="1.1"/>
<path d="M428.00,277.90 L423.80,275.60 L423.80,280.20 Z" fill="#1b6a55" />
<text x="454.60" y="275.00" font-size="8.0" text-anchor="middle" textLength="39.60" lengthAdjust="spacingAndGlyphs" stroke="#2a2a2a" stroke-width="0.12">Ferroptotic</text>
<text x="454.50" y="284.00" font-size="8.0" text-anchor="middle" textLength="35.00" lengthAdjust="spacingAndGlyphs" stroke="#2a2a2a" stroke-width="0.12">cell death</text>
<text x="299.00" y="302.70" font-size="8.0" text-anchor="middle" textLength="64.50" lengthAdjust="spacingAndGlyphs" stroke="#2a2a2a" stroke-width="0.12"><tspan font-style="italic">LGR4</tspan>/<tspan font-style="italic">HOXA9</tspan>-low</text>
<text x="298.70" y="311.00" font-size="8.0" text-anchor="middle" textLength="20.50" lengthAdjust="spacingAndGlyphs" stroke="#2a2a2a" stroke-width="0.12">(ref 5)</text>
<text x="354.40" y="302.70" font-size="8.0" textLength="44.00" lengthAdjust="spacingAndGlyphs" stroke="#2a2a2a" stroke-width="0.12">Cell viability</text>
<line x1="399.40" y1="300.60" x2="399.40" y2="304.40" stroke="#333" stroke-width="0.7"/>
<path d="M398.30,302.80 L399.40,304.60 L400.50,302.80 Z" fill="#333" />
<text x="369.20" y="312.00" font-size="8.0" textLength="14.60" lengthAdjust="spacingAndGlyphs" stroke="#2a2a2a" stroke-width="0.12">Iron</text>
<line x1="385.00" y1="308.80" x2="385.00" y2="312.90" stroke="#333" stroke-width="0.7"/>
<path d="M383.90,310.40 L385.00,308.60 L386.10,310.40 Z" fill="#333" />
<text x="368.50" y="321.20" font-size="8.0" textLength="15.30" lengthAdjust="spacingAndGlyphs" stroke="#2a2a2a" stroke-width="0.12">ROS</text>
<line x1="385.50" y1="318.60" x2="385.50" y2="322.60" stroke="#333" stroke-width="0.7"/>
<path d="M384.40,320.20 L385.50,318.40 L386.60,320.20 Z" fill="#333" />
<text x="7.40" y="375.90" font-size="11" fill="#111" font-weight="bold" stroke="#111" stroke-width="0.15">E</text>
<text x="81.50" y="374.20" font-size="9.6" textLength="146.40" lengthAdjust="spacingAndGlyphs" stroke="#2a2a2a" stroke-width="0.15">hCD34<tspan font-size="6.5" dy="-3.6">+</tspan><tspan dy="3.6"> patient cells (</tspan><tspan fill="#3466a0" stroke="#3466a0">9p deletion</tspan>)</text>
<text x="77.70" y="386.20" font-size="8.0" textLength="36.50" lengthAdjust="spacingAndGlyphs" stroke="#2a2a2a" stroke-width="0.15">Iron (Fe<tspan font-size="5.4" dy="-2.8">2+</tspan><tspan dy="2.8">)</tspan></text>
<text x="196.20" y="386.20" font-size="8.0" textLength="38.00" lengthAdjust="spacingAndGlyphs" stroke="#2a2a2a" stroke-width="0.15">ROS levels</text>
<line x1="59.20" y1="398.90" x2="59.20" y2="477.40" stroke="#262626" stroke-width="1.3"/>
<line x1="56.00" y1="401.50" x2="59.20" y2="401.50" stroke="#262626" stroke-width="1.3"/>
<text x="53.40" y="403.88" font-size="8.6" text-anchor="end" textLength="10.30" lengthAdjust="spacingAndGlyphs" stroke="#2a2a2a" stroke-width="0.12">1.2</text>
<line x1="56.00" y1="420.35" x2="59.20" y2="420.35" stroke="#262626" stroke-width="1.3"/>
<text x="53.40" y="422.73" font-size="8.6" text-anchor="end" textLength="11.40" lengthAdjust="spacingAndGlyphs" stroke="#2a2a2a" stroke-width="0.12">0.9</text>
<line x1="56.00" y1="439.20" x2="59.20" y2="439.20" stroke="#262626" stroke-width="1.3"/>
<text x="53.40" y="441.58" font-size="8.6" text-anchor="end" textLength="11.40" lengthAdjust="spacingAndGlyphs" stroke="#2a2a2a" stroke-width="0.12">0.6</text>
<line x1="56.00" y1="458.05" x2="59.20" y2="458.05" stroke="#262626" stroke-width="1.3"/>
<text x="53.40" y="460.43" font-size="8.6" text-anchor="end" textLength="11.40" lengthAdjust="spacingAndGlyphs" stroke="#2a2a2a" stroke-width="0.12">0.3</text>
<line x1="56.00" y1="476.90" x2="59.20" y2="476.90" stroke="#262626" stroke-width="1.3"/>
<text x="53.40" y="479.28" font-size="8.6" text-anchor="end" textLength="11.40" lengthAdjust="spacingAndGlyphs" stroke="#2a2a2a" stroke-width="0.12">0.0</text>
<text x="26.60" y="435.70" font-size="10.0" text-anchor="middle" textLength="71.50" lengthAdjust="spacingAndGlyphs" transform="rotate(-90 26.60 435.70)" stroke="#2a2a2a" stroke-width="0.15">ΔPG-SK fluorescence</text>
<text x="37.30" y="437.80" font-size="10.0" text-anchor="middle" textLength="62.20" lengthAdjust="spacingAndGlyphs" transform="rotate(-90 37.30 437.80)" stroke="#2a2a2a" stroke-width="0.15">(relative to DMSO)</text>
<line x1="58.70" y1="476.90" x2="132.30" y2="476.90" stroke="#262626" stroke-width="1.3"/>
<line x1="81.50" y1="476.90" x2="81.50" y2="479.50" stroke="#262626" stroke-width="1.1700000000000002"/>
<line x1="115.70" y1="476.90" x2="115.70" y2="479.50" stroke="#262626" stroke-width="1.1700000000000002"/>
<line x1="80.80" y1="400.90" x2="115.70" y2="400.90" stroke="#333" stroke-width="1.0"/>
<line x1="80.80" y1="399.60" x2="80.80" y2="402.20" stroke="#333" stroke-width="1.0"/>
<line x1="115.70" y1="399.60" x2="115.70" y2="402.20" stroke="#333" stroke-width="1.0"/>
<text x="98.50" y="397.80" font-size="8.2" text-anchor="middle" textLength="11.00" lengthAdjust="spacingAndGlyphs" stroke="#2a2a2a" stroke-width="0.15">NS</text>
<line x1="73.00" y1="414.30" x2="90.00" y2="414.30" stroke="#a3182e" stroke-width="1.0"/>
<line x1="81.50" y1="409.70" x2="81.50" y2="419.20" stroke="#a3182e" stroke-width="1.0"/>
<line x1="77.60" y1="409.70" x2="85.40" y2="409.70" stroke="#a3182e" stroke-width="1.0"/>
<line x1="77.60" y1="419.20" x2="85.40" y2="419.20" stroke="#a3182e" stroke-width="1.0"/>
<circle cx="81.50" cy="410.40" r="1.2" fill="#a3182e"/>
<circle cx="81.50" cy="414.00" r="1.2" fill="#a3182e"/>
<circle cx="81.50" cy="418.60" r="1.2" fill="#a3182e"/>
<line x1="107.10" y1="411.10" x2="124.30" y2="411.10" stroke="#3f7f45" stroke-width="1.0"/>
<line x1="115.70" y1="408.00" x2="115.70" y2="414.30" stroke="#3f7f45" stroke-width="1.0"/>
<line x1="111.50" y1="408.00" x2="119.90" y2="408.00" stroke="#3f7f45" stroke-width="1.0"/>
<line x1="111.50" y1="414.30" x2="119.90" y2="414.30" stroke="#3f7f45" stroke-width="1.0"/>
<circle cx="115.70" cy="409.50" r="1.2" fill="#3f7f45"/>
<circle cx="114.50" cy="413.20" r="1.2" fill="#3f7f45"/>
<circle cx="116.90" cy="413.20" r="1.2" fill="#3f7f45"/>
<text x="85.50" y="488.20" font-size="8.0" text-anchor="end" textLength="23.04" lengthAdjust="spacingAndGlyphs" transform="rotate(-45 85.50 488.20)" stroke="#2a2a2a" stroke-width="0.15">DMSO</text>
<text x="119.70" y="488.20" font-size="8.0" text-anchor="end" textLength="38.57" lengthAdjust="spacingAndGlyphs" transform="rotate(-45 119.70 488.20)" stroke="#2a2a2a" stroke-width="0.15">3 μM RSL3</text>
<line x1="184.40" y1="399.00" x2="184.40" y2="477.20" stroke="#262626" stroke-width="1.3"/>
<line x1="181.20" y1="401.60" x2="184.40" y2="401.60" stroke="#262626" stroke-width="1.3"/>
<text x="178.60" y="403.98" font-size="8.6" text-anchor="end" textLength="10.30" lengthAdjust="spacingAndGlyphs" stroke="#2a2a2a" stroke-width="0.12">1.5</text>
<line x1="181.20" y1="426.63" x2="184.40" y2="426.63" stroke="#262626" stroke-width="1.3"/>
<text x="178.60" y="429.01" font-size="8.6" text-anchor="end" textLength="10.30" lengthAdjust="spacingAndGlyphs" stroke="#2a2a2a" stroke-width="0.12">1.0</text>
<line x1="181.20" y1="451.67" x2="184.40" y2="451.67" stroke="#262626" stroke-width="1.3"/>
<text x="178.60" y="454.05" font-size="8.6" text-anchor="end" textLength="11.40" lengthAdjust="spacingAndGlyphs" stroke="#2a2a2a" stroke-width="0.12">0.5</text>
<line x1="181.20" y1="476.70" x2="184.40" y2="476.70" stroke="#262626" stroke-width="1.3"/>
<text x="178.60" y="479.08" font-size="8.6" text-anchor="end" textLength="11.40" lengthAdjust="spacingAndGlyphs" stroke="#2a2a2a" stroke-width="0.12">0.0</text>
<text x="150.50" y="437.60" font-size="10.0" text-anchor="middle" textLength="41.30" lengthAdjust="spacingAndGlyphs" transform="rotate(-90 150.50 437.60)" stroke="#2a2a2a" stroke-width="0.15">C11-BODIPY</text>
<text x="161.80" y="437.70" font-size="10.0" text-anchor="middle" textLength="63.50" lengthAdjust="spacingAndGlyphs" transform="rotate(-90 161.80 437.70)" stroke="#2a2a2a" stroke-width="0.15">(relative to DMSO)</text>
<line x1="183.90" y1="476.70" x2="245.70" y2="476.70" stroke="#262626" stroke-width="1.3"/>
<line x1="200.90" y1="476.70" x2="200.90" y2="479.30" stroke="#262626" stroke-width="1.1700000000000002"/>
<line x1="233.00" y1="476.70" x2="233.00" y2="479.30" stroke="#262626" stroke-width="1.1700000000000002"/>
<rect x="194.50" y="427.00" width="12.70" height="49.70" fill="#f7b500"/>
<rect x="226.30" y="429.70" width="13.50" height="47.00" fill="#f7b500"/>
<circle cx="197.50" cy="427.20" r="1.0" fill="#c01b2e"/>
<circle cx="200.90" cy="427.20" r="1.0" fill="#c01b2e"/>
<circle cx="204.30" cy="427.20" r="1.0" fill="#c01b2e"/>
<line x1="233.00" y1="427.30" x2="233.00" y2="431.80" stroke="#3f7f45" stroke-width="1.0"/>
<line x1="230.70" y1="427.30" x2="235.30" y2="427.30" stroke="#3f7f45" stroke-width="1.0"/>
<line x1="230.70" y1="431.80" x2="235.30" y2="431.80" stroke="#3f7f45" stroke-width="1.0"/>
<line x1="199.20" y1="405.90" x2="233.40" y2="405.90" stroke="#333" stroke-width="1.0"/>
<line x1="199.20" y1="404.60" x2="199.20" y2="407.20" stroke="#333" stroke-width="1.0"/>
<line x1="233.40" y1="404.60" x2="233.40" y2="407.20" stroke="#333" stroke-width="1.0"/>
<text x="216.50" y="403.40" font-size="8.2" text-anchor="middle" textLength="11.00" lengthAdjust="spacingAndGlyphs" stroke="#2a2a2a" stroke-width="0.15">NS</text>
<text x="204.90" y="488.00" font-size="8.0" text-anchor="end" textLength="23.04" lengthAdjust="spacingAndGlyphs" transform="rotate(-45 204.90 488.00)" stroke="#2a2a2a" stroke-width="0.15">DMSO</text>
<text x="237.00" y="488.00" font-size="8.0" text-anchor="end" textLength="38.57" lengthAdjust="spacingAndGlyphs" transform="rotate(-45 237.00 488.00)" stroke="#2a2a2a" stroke-width="0.15">3 μM RSL3</text>
<text x="343.70" y="374.10" font-size="9.6" textLength="112.50" lengthAdjust="spacingAndGlyphs" stroke="#2a2a2a" stroke-width="0.15">hCD34<tspan font-size="6.5" dy="-3.6">+</tspan><tspan dy="3.6"> patient cells (</tspan><tspan fill="#c0263f" stroke="#c0263f">APL</tspan>)</text>
<text x="323.10" y="385.90" font-size="8.0" textLength="36.50" lengthAdjust="spacingAndGlyphs" stroke="#2a2a2a" stroke-width="0.15">Iron (Fe<tspan font-size="5.4" dy="-2.8">2+</tspan><tspan dy="2.8">)</tspan></text>
<text x="440.80" y="386.00" font-size="8.0" textLength="38.00" lengthAdjust="spacingAndGlyphs" stroke="#2a2a2a" stroke-width="0.15">ROS levels</text>
<line x1="303.00" y1="398.90" x2="303.00" y2="477.00" stroke="#262626" stroke-width="1.3"/>
<line x1="299.80" y1="401.50" x2="303.00" y2="401.50" stroke="#262626" stroke-width="1.3"/>
<text x="297.20" y="403.88" font-size="8.6" text-anchor="end" textLength="10.30" lengthAdjust="spacingAndGlyphs" stroke="#2a2a2a" stroke-width="0.12">1.8</text>
<line x1="299.80" y1="414.00" x2="303.00" y2="414.00" stroke="#262626" stroke-width="1.3"/>
<text x="297.20" y="416.38" font-size="8.6" text-anchor="end" textLength="10.30" lengthAdjust="spacingAndGlyphs" stroke="#2a2a2a" stroke-width="0.12">1.5</text>
<line x1="299.80" y1="426.50" x2="303.00" y2="426.50" stroke="#262626" stroke-width="1.3"/>
<text x="297.20" y="428.88" font-size="8.6" text-anchor="end" textLength="10.30" lengthAdjust="spacingAndGlyphs" stroke="#2a2a2a" stroke-width="0.12">1.2</text>
<line x1="299.80" y1="439.00" x2="303.00" y2="439.00" stroke="#262626" stroke-width="1.3"/>
<text x="297.20" y="441.38" font-size="8.6" text-anchor="end" textLength="11.40" lengthAdjust="spacingAndGlyphs" stroke="#2a2a2a" stroke-width="0.12">0.9</text>
<line x1="299.80" y1="451.50" x2="303.00" y2="451.50" stroke="#262626" stroke-width="1.3"/>
<text x="297.20" y="453.88" font-size="8.6" text-anchor="end" textLength="11.40" lengthAdjust="spacingAndGlyphs" stroke="#2a2a2a" stroke-width="0.12">0.6</text>
<line x1="299.80" y1="464.00" x2="303.00" y2="464.00" stroke="#262626" stroke-width="1.3"/>
<text x="297.20" y="466.38" font-size="8.6" text-anchor="end" textLength="11.40" lengthAdjust="spacingAndGlyphs" stroke="#2a2a2a" stroke-width="0.12">0.3</text>
<line x1="299.80" y1="476.50" x2="303.00" y2="476.50" stroke="#262626" stroke-width="1.3"/>
<text x="297.20" y="478.88" font-size="8.6" text-anchor="end" textLength="11.40" lengthAdjust="spacingAndGlyphs" stroke="#2a2a2a" stroke-width="0.12">0.0</text>
<text x="270.80" y="437.40" font-size="10.0" text-anchor="middle" textLength="69.50" lengthAdjust="spacingAndGlyphs" transform="rotate(-90 270.80 437.40)" stroke="#2a2a2a" stroke-width="0.15">ΔPG-SK fluorescence</text>
<text x="282.40" y="437.80" font-size="10.0" text-anchor="middle" textLength="62.20" lengthAdjust="spacingAndGlyphs" transform="rotate(-90 282.40 437.80)" stroke="#2a2a2a" stroke-width="0.15">(relative to DMSO)</text>
<line x1="302.50" y1="476.60" x2="378.40" y2="476.60" stroke="#262626" stroke-width="1.3"/>
<line x1="326.00" y1="476.60" x2="326.00" y2="479.20" stroke="#262626" stroke-width="1.1700000000000002"/>
<line x1="360.60" y1="476.60" x2="360.60" y2="479.20" stroke="#262626" stroke-width="1.1700000000000002"/>
<line x1="325.80" y1="401.20" x2="360.40" y2="401.20" stroke="#333" stroke-width="1.0"/>
<line x1="325.80" y1="399.90" x2="325.80" y2="402.50" stroke="#333" stroke-width="1.0"/>
<line x1="360.40" y1="399.90" x2="360.40" y2="402.50" stroke="#333" stroke-width="1.0"/>
<text x="343.00" y="401.88" font-size="8.8" text-anchor="middle" stroke="#2a2a2a" stroke-width="0.15">**</text>
<line x1="317.20" y1="437.70" x2="334.40" y2="437.70" stroke="#a3182e" stroke-width="1.0"/>
<line x1="325.80" y1="432.00" x2="325.80" y2="443.80" stroke="#a3182e" stroke-width="1.0"/>
<line x1="321.80" y1="432.00" x2="329.80" y2="432.00" stroke="#a3182e" stroke-width="1.0"/>
<line x1="321.80" y1="443.80" x2="329.80" y2="443.80" stroke="#a3182e" stroke-width="1.0"/>
<circle cx="322.50" cy="433.30" r="1.2" fill="#a3182e"/>
<circle cx="328.70" cy="434.80" r="1.2" fill="#a3182e"/>
<circle cx="325.80" cy="444.60" r="1.2" fill="#a3182e"/>
<line x1="351.90" y1="413.50" x2="369.10" y2="413.50" stroke="#3f7f45" stroke-width="1.0"/>
<line x1="360.50" y1="409.20" x2="360.50" y2="417.90" stroke="#3f7f45" stroke-width="1.0"/>
<line x1="356.10" y1="409.20" x2="364.90" y2="409.20" stroke="#3f7f45" stroke-width="1.0"/>
<line x1="356.10" y1="417.90" x2="364.90" y2="417.90" stroke="#3f7f45" stroke-width="1.0"/>
<circle cx="360.50" cy="410.50" r="1.2" fill="#3f7f45"/>
<circle cx="360.50" cy="413.50" r="1.2" fill="#3f7f45"/>
<circle cx="360.50" cy="416.80" r="1.2" fill="#3f7f45"/>
<text x="330.00" y="487.90" font-size="8.0" text-anchor="end" textLength="23.04" lengthAdjust="spacingAndGlyphs" transform="rotate(-45 330.00 487.90)" stroke="#2a2a2a" stroke-width="0.15">DMSO</text>
<text x="364.60" y="487.90" font-size="8.0" text-anchor="end" textLength="38.57" lengthAdjust="spacingAndGlyphs" transform="rotate(-45 364.60 487.90)" stroke="#2a2a2a" stroke-width="0.15">3 μM RSL3</text>
<line x1="429.50" y1="399.40" x2="429.50" y2="476.80" stroke="#262626" stroke-width="1.3"/>
<line x1="426.30" y1="402.00" x2="429.50" y2="402.00" stroke="#262626" stroke-width="1.3"/>
<text x="423.70" y="404.38" font-size="8.6" text-anchor="end" textLength="11.40" lengthAdjust="spacingAndGlyphs" stroke="#2a2a2a" stroke-width="0.12">2.5</text>
<line x1="426.30" y1="416.86" x2="429.50" y2="416.86" stroke="#262626" stroke-width="1.3"/>
<text x="423.70" y="419.24" font-size="8.6" text-anchor="end" textLength="11.40" lengthAdjust="spacingAndGlyphs" stroke="#2a2a2a" stroke-width="0.12">2.0</text>
<line x1="426.30" y1="431.72" x2="429.50" y2="431.72" stroke="#262626" stroke-width="1.3"/>
<text x="423.70" y="434.10" font-size="8.6" text-anchor="end" textLength="10.30" lengthAdjust="spacingAndGlyphs" stroke="#2a2a2a" stroke-width="0.12">1.5</text>
<line x1="426.30" y1="446.58" x2="429.50" y2="446.58" stroke="#262626" stroke-width="1.3"/>
<text x="423.70" y="448.96" font-size="8.6" text-anchor="end" textLength="10.30" lengthAdjust="spacingAndGlyphs" stroke="#2a2a2a" stroke-width="0.12">1.0</text>
<line x1="426.30" y1="461.44" x2="429.50" y2="461.44" stroke="#262626" stroke-width="1.3"/>
<text x="423.70" y="463.82" font-size="8.6" text-anchor="end" textLength="11.40" lengthAdjust="spacingAndGlyphs" stroke="#2a2a2a" stroke-width="0.12">0.5</text>
<line x1="426.30" y1="476.30" x2="429.50" y2="476.30" stroke="#262626" stroke-width="1.3"/>
<text x="423.70" y="478.68" font-size="8.6" text-anchor="end" textLength="11.40" lengthAdjust="spacingAndGlyphs" stroke="#2a2a2a" stroke-width="0.12">0.0</text>
<text x="396.00" y="437.90" font-size="10.0" text-anchor="middle" textLength="41.30" lengthAdjust="spacingAndGlyphs" transform="rotate(-90 396.00 437.90)" stroke="#2a2a2a" stroke-width="0.15">C11-BODIPY</text>
<text x="407.80" y="437.70" font-size="10.0" text-anchor="middle" textLength="63.50" lengthAdjust="spacingAndGlyphs" transform="rotate(-90 407.80 437.70)" stroke="#2a2a2a" stroke-width="0.15">(relative to DMSO)</text>
<line x1="429.00" y1="476.30" x2="488.80" y2="476.30" stroke="#262626" stroke-width="1.3"/>
<line x1="445.60" y1="476.30" x2="445.60" y2="478.90" stroke="#262626" stroke-width="1.1700000000000002"/>
<line x1="476.90" y1="476.30" x2="476.90" y2="478.90" stroke="#262626" stroke-width="1.1700000000000002"/>
<rect x="440.00" y="447.00" width="11.50" height="29.30" fill="#f7b500"/>
<rect x="471.20" y="424.60" width="11.40" height="51.70" fill="#f7b500"/>
<circle cx="442.40" cy="447.20" r="1.0" fill="#c01b2e"/>
<circle cx="445.60" cy="447.20" r="1.0" fill="#c01b2e"/>
<circle cx="448.80" cy="447.20" r="1.0" fill="#c01b2e"/>
<line x1="476.90" y1="419.70" x2="476.90" y2="428.90" stroke="#3f7f45" stroke-width="1.0"/>
<line x1="474.40" y1="419.70" x2="479.40" y2="419.70" stroke="#3f7f45" stroke-width="1.0"/>
<line x1="474.40" y1="428.90" x2="479.40" y2="428.90" stroke="#3f7f45" stroke-width="1.0"/>
<circle cx="476.90" cy="421.50" r="1.0" fill="#3f7f45"/>
<circle cx="476.90" cy="427.50" r="1.0" fill="#3f7f45"/>
<line x1="444.20" y1="405.20" x2="476.20" y2="405.20" stroke="#333" stroke-width="1.0"/>
<line x1="444.20" y1="403.90" x2="444.20" y2="406.50" stroke="#333" stroke-width="1.0"/>
<line x1="476.20" y1="403.90" x2="476.20" y2="406.50" stroke="#333" stroke-width="1.0"/>
<text x="460.50" y="405.88" font-size="8.8" text-anchor="middle" stroke="#2a2a2a" stroke-width="0.15">***</text>
<text x="449.60" y="487.60" font-size="8.0" text-anchor="end" textLength="23.04" lengthAdjust="spacingAndGlyphs" transform="rotate(-45 449.60 487.60)" stroke="#2a2a2a" stroke-width="0.15">DMSO</text>
<text x="480.90" y="487.60" font-size="8.0" text-anchor="end" textLength="38.57" lengthAdjust="spacingAndGlyphs" transform="rotate(-45 480.90 487.60)" stroke="#2a2a2a" stroke-width="0.15">3 μM RSL3</text>
<text x="7.40" y="541.20" font-size="11" fill="#111" font-weight="bold" stroke="#111" stroke-width="0.15">F</text>
<text x="54.60" y="538.00" font-size="8.8" textLength="68.50" lengthAdjust="spacingAndGlyphs" stroke="#2a2a2a" stroke-width="0.15">Patient <tspan fill="#3466a0" stroke="#3466a0">9p deletion</tspan></text>
<text x="153.00" y="538.00" font-size="8.8" textLength="41.60" lengthAdjust="spacingAndGlyphs" stroke="#2a2a2a" stroke-width="0.15">Patient <tspan fill="#c0263f" stroke="#c0263f">APL</tspan></text>
<line x1="49.20" y1="549.20" x2="49.20" y2="621.70" stroke="#262626" stroke-width="1.3"/>
<line x1="46.00" y1="551.80" x2="49.20" y2="551.80" stroke="#262626" stroke-width="1.3"/>
<text x="43.40" y="554.18" font-size="8.6" text-anchor="end" textLength="13.20" lengthAdjust="spacingAndGlyphs" stroke="#2a2a2a" stroke-width="0.12">300</text>
<line x1="46.00" y1="574.93" x2="49.20" y2="574.93" stroke="#262626" stroke-width="1.3"/>
<text x="43.40" y="577.31" font-size="8.6" text-anchor="end" textLength="13.20" lengthAdjust="spacingAndGlyphs" stroke="#2a2a2a" stroke-width="0.12">200</text>
<line x1="46.00" y1="598.07" x2="49.20" y2="598.07" stroke="#262626" stroke-width="1.3"/>
<text x="43.40" y="600.45" font-size="8.6" text-anchor="end" textLength="12.10" lengthAdjust="spacingAndGlyphs" stroke="#2a2a2a" stroke-width="0.12">100</text>
<line x1="46.00" y1="621.20" x2="49.20" y2="621.20" stroke="#262626" stroke-width="1.3"/>
<text x="43.40" y="623.58" font-size="8.6" text-anchor="end" textLength="4.40" lengthAdjust="spacingAndGlyphs" stroke="#2a2a2a" stroke-width="0.12">0</text>
<text x="26.10" y="586.60" font-size="10.2" text-anchor="middle" textLength="53.10" lengthAdjust="spacingAndGlyphs" transform="rotate(-90 26.10 586.60)" stroke="#2a2a2a" stroke-width="0.15">Cell viability (%)</text>
<line x1="48.70" y1="621.30" x2="214.20" y2="621.30" stroke="#262626" stroke-width="1.3"/>
<line x1="62.50" y1="621.30" x2="62.50" y2="623.90" stroke="#262626" stroke-width="1.1700000000000002"/>
<line x1="80.00" y1="621.30" x2="80.00" y2="623.90" stroke="#262626" stroke-width="1.1700000000000002"/>
<line x1="97.80" y1="621.30" x2="97.80" y2="623.90" stroke="#262626" stroke-width="1.1700000000000002"/>
<line x1="115.40" y1="621.30" x2="115.40" y2="623.90" stroke="#262626" stroke-width="1.1700000000000002"/>
<line x1="148.60" y1="621.30" x2="148.60" y2="623.90" stroke="#262626" stroke-width="1.1700000000000002"/>
<line x1="166.10" y1="621.30" x2="166.10" y2="623.90" stroke="#262626" stroke-width="1.1700000000000002"/>
<line x1="183.80" y1="621.30" x2="183.80" y2="623.90" stroke="#262626" stroke-width="1.1700000000000002"/>
<line x1="201.10" y1="621.30" x2="201.10" y2="623.90" stroke="#262626" stroke-width="1.1700000000000002"/>
<rect x="56.80" y="598.50" width="11.40" height="22.80" fill="#8c9bc5"/>
<rect x="74.30" y="566.50" width="11.40" height="54.80" fill="#8c9bc5"/>
<rect x="92.10" y="592.30" width="11.40" height="29.00" fill="#8c9bc5"/>
<rect x="109.70" y="566.20" width="11.40" height="55.10" fill="#8c9bc5"/>
<rect x="142.90" y="598.80" width="11.40" height="22.50" fill="#e0826f"/>
<rect x="160.40" y="596.30" width="11.40" height="25.00" fill="#e0826f"/>
<rect x="178.10" y="609.20" width="11.40" height="12.10" fill="#e0826f"/>
<rect x="195.40" y="596.70" width="11.40" height="24.60" fill="#e0826f"/>
<line x1="62.50" y1="590.00" x2="62.50" y2="607.00" stroke="#222" stroke-width="0.9"/>
<line x1="60.10" y1="590.00" x2="64.90" y2="590.00" stroke="#222" stroke-width="0.9"/>
<line x1="60.10" y1="607.00" x2="64.90" y2="607.00" stroke="#222" stroke-width="0.9"/>
<circle cx="62.50" cy="587.70" r="1.2" fill="#1a1a1a"/>
<circle cx="62.50" cy="597.70" r="1.2" fill="#1a1a1a"/>
<circle cx="62.50" cy="601.50" r="1.2" fill="#1a1a1a"/>
<circle cx="62.50" cy="607.00" r="1.2" fill="#1a1a1a"/>
<line x1="80.00" y1="556.60" x2="80.00" y2="576.90" stroke="#222" stroke-width="0.9"/>
<line x1="77.60" y1="556.60" x2="82.40" y2="556.60" stroke="#222" stroke-width="0.9"/>
<line x1="77.60" y1="576.90" x2="82.40" y2="576.90" stroke="#222" stroke-width="0.9"/>
<circle cx="80.00" cy="557.50" r="1.2" fill="#1a1a1a"/>
<circle cx="78.00" cy="565.00" r="1.2" fill="#1a1a1a"/>
<circle cx="82.00" cy="567.00" r="1.2" fill="#1a1a1a"/>
<circle cx="80.00" cy="575.50" r="1.2" fill="#1a1a1a"/>
<line x1="97.80" y1="585.40" x2="97.80" y2="598.20" stroke="#222" stroke-width="0.9"/>
<line x1="95.40" y1="585.40" x2="100.20" y2="585.40" stroke="#222" stroke-width="0.9"/>
<line x1="95.40" y1="598.20" x2="100.20" y2="598.20" stroke="#222" stroke-width="0.9"/>
<circle cx="93.80" cy="587.30" r="1.2" fill="#1a1a1a"/>
<circle cx="97.80" cy="588.00" r="1.2" fill="#1a1a1a"/>
<circle cx="101.80" cy="589.00" r="1.2" fill="#1a1a1a"/>
<circle cx="97.80" cy="596.80" r="1.2" fill="#1a1a1a"/>
<line x1="115.40" y1="557.40" x2="115.40" y2="574.60" stroke="#222" stroke-width="0.9"/>
<line x1="113.00" y1="557.40" x2="117.80" y2="557.40" stroke="#222" stroke-width="0.9"/>
<line x1="113.00" y1="574.60" x2="117.80" y2="574.60" stroke="#222" stroke-width="0.9"/>
<circle cx="113.90" cy="563.00" r="1.2" fill="#1a1a1a"/>
<circle cx="116.90" cy="565.50" r="1.2" fill="#1a1a1a"/>
<circle cx="115.40" cy="573.50" r="1.2" fill="#1a1a1a"/>
<text x="80.00" y="555.68" font-size="8.8" text-anchor="middle" stroke="#2a2a2a" stroke-width="0.15">***</text>
<text x="97.80" y="582.70" font-size="8.2" text-anchor="middle" textLength="11.00" lengthAdjust="spacingAndGlyphs" stroke="#2a2a2a" stroke-width="0.15">NS</text>
<text x="115.40" y="557.38" font-size="8.8" text-anchor="middle" stroke="#2a2a2a" stroke-width="0.15">***</text>
<line x1="148.60" y1="595.00" x2="148.60" y2="603.00" stroke="#222" stroke-width="0.9"/>
<line x1="146.40" y1="595.00" x2="150.80" y2="595.00" stroke="#222" stroke-width="0.9"/>
<line x1="146.40" y1="603.00" x2="150.80" y2="603.00" stroke="#222" stroke-width="0.9"/>
<circle cx="147.10" cy="596.00" r="1.1" fill="#1a1a1a"/>
<circle cx="150.10" cy="598.50" r="1.1" fill="#1a1a1a"/>
<circle cx="148.60" cy="602.00" r="1.1" fill="#1a1a1a"/>
<line x1="163.30" y1="596.00" x2="169.30" y2="596.00" stroke="#222" stroke-width="0.9"/>
<circle cx="163.60" cy="596.40" r="0.9" fill="#1a1a1a"/>
<circle cx="166.10" cy="596.40" r="0.9" fill="#1a1a1a"/>
<circle cx="168.60" cy="596.40" r="0.9" fill="#1a1a1a"/>
<line x1="183.80" y1="605.00" x2="183.80" y2="611.70" stroke="#222" stroke-width="0.9"/>
<line x1="181.60" y1="605.00" x2="186.00" y2="605.00" stroke="#222" stroke-width="0.9"/>
<line x1="181.60" y1="611.70" x2="186.00" y2="611.70" stroke="#222" stroke-width="0.9"/>
<circle cx="182.30" cy="607.50" r="1.1" fill="#1a1a1a"/>
<circle cx="185.30" cy="610.00" r="1.1" fill="#1a1a1a"/>
<circle cx="183.80" cy="611.00" r="1.1" fill="#1a1a1a"/>
<line x1="198.10" y1="596.20" x2="204.10" y2="596.20" stroke="#222" stroke-width="0.9"/>
<circle cx="198.90" cy="595.80" r="0.9" fill="#1a1a1a"/>
<circle cx="201.10" cy="595.80" r="0.9" fill="#1a1a1a"/>
<circle cx="203.30" cy="595.80" r="0.9" fill="#1a1a1a"/>
<text x="166.10" y="590.80" font-size="8.2" text-anchor="middle" textLength="11.00" lengthAdjust="spacingAndGlyphs" stroke="#2a2a2a" stroke-width="0.15">NS</text>
<text x="183.80" y="603.28" font-size="8.8" text-anchor="middle" stroke="#2a2a2a" stroke-width="0.15">****</text>
<text x="201.10" y="589.30" font-size="8.2" text-anchor="middle" textLength="11.00" lengthAdjust="spacingAndGlyphs" stroke="#2a2a2a" stroke-width="0.15">NS</text>
<text x="66.50" y="632.60" font-size="8.0" text-anchor="end" textLength="23.04" lengthAdjust="spacingAndGlyphs" transform="rotate(-45 66.50 632.60)" stroke="#2a2a2a" stroke-width="0.15">DMSO</text>
<text x="84.00" y="632.60" font-size="8.0" text-anchor="end" textLength="37.71" lengthAdjust="spacingAndGlyphs" transform="rotate(-45 84.00 632.60)" stroke="#2a2a2a" stroke-width="0.15">5 μM Fer-1</text>
<text x="101.80" y="632.60" font-size="8.0" text-anchor="end" textLength="38.57" lengthAdjust="spacingAndGlyphs" transform="rotate(-45 101.80 632.60)" stroke="#2a2a2a" stroke-width="0.15">3 μM RSL3</text>
<text x="119.40" y="632.60" font-size="8.0" text-anchor="end" textLength="46.31" lengthAdjust="spacingAndGlyphs" transform="rotate(-45 119.40 632.60)" stroke="#2a2a2a" stroke-width="0.15">Fer-1 + RSL3</text>
<text x="152.60" y="632.60" font-size="8.0" text-anchor="end" textLength="23.04" lengthAdjust="spacingAndGlyphs" transform="rotate(-45 152.60 632.60)" stroke="#2a2a2a" stroke-width="0.15">DMSO</text>
<text x="170.10" y="632.60" font-size="8.0" text-anchor="end" textLength="37.71" lengthAdjust="spacingAndGlyphs" transform="rotate(-45 170.10 632.60)" stroke="#2a2a2a" stroke-width="0.15">5 μM Fer-1</text>
<text x="187.80" y="632.60" font-size="8.0" text-anchor="end" textLength="38.57" lengthAdjust="spacingAndGlyphs" transform="rotate(-45 187.80 632.60)" stroke="#2a2a2a" stroke-width="0.15">3 μM RSL3</text>
<text x="205.10" y="632.60" font-size="8.0" text-anchor="end" textLength="46.31" lengthAdjust="spacingAndGlyphs" transform="rotate(-45 205.10 632.60)" stroke="#2a2a2a" stroke-width="0.15">Fer-1 + RSL3</text>
<text x="230.40" y="541.20" font-size="11" fill="#111" font-weight="bold" stroke="#111" stroke-width="0.15">G</text>
<text x="289.60" y="539.30" font-size="9.8" textLength="81.70" lengthAdjust="spacingAndGlyphs" stroke="#2a2a2a" stroke-width="0.15">Patient <tspan fill="#3466a0" stroke="#3466a0">9p deletion</tspan></text>
<text x="442.70" y="539.30" font-size="9.8" textLength="50.00" lengthAdjust="spacingAndGlyphs" stroke="#2a2a2a" stroke-width="0.15">Patient <tspan fill="#c0263f" stroke="#c0263f">APL</tspan></text>
<line x1="283.20" y1="549.90" x2="283.20" y2="621.80" stroke="#262626" stroke-width="1.3"/>
<line x1="280.00" y1="552.50" x2="283.20" y2="552.50" stroke="#262626" stroke-width="1.3"/>
<text x="277.40" y="554.88" font-size="8.6" text-anchor="end" textLength="11.40" lengthAdjust="spacingAndGlyphs" stroke="#2a2a2a" stroke-width="0.12">2.5</text>
<line x1="280.00" y1="566.20" x2="283.20" y2="566.20" stroke="#262626" stroke-width="1.3"/>
<text x="277.40" y="568.58" font-size="8.6" text-anchor="end" textLength="11.40" lengthAdjust="spacingAndGlyphs" stroke="#2a2a2a" stroke-width="0.12">2.0</text>
<line x1="280.00" y1="579.90" x2="283.20" y2="579.90" stroke="#262626" stroke-width="1.3"/>
<text x="277.40" y="582.28" font-size="8.6" text-anchor="end" textLength="10.30" lengthAdjust="spacingAndGlyphs" stroke="#2a2a2a" stroke-width="0.12">1.5</text>
<line x1="280.00" y1="593.60" x2="283.20" y2="593.60" stroke="#262626" stroke-width="1.3"/>
<text x="277.40" y="595.98" font-size="8.6" text-anchor="end" textLength="10.30" lengthAdjust="spacingAndGlyphs" stroke="#2a2a2a" stroke-width="0.12">1.0</text>
<line x1="280.00" y1="607.30" x2="283.20" y2="607.30" stroke="#262626" stroke-width="1.3"/>
<text x="277.40" y="609.68" font-size="8.6" text-anchor="end" textLength="11.40" lengthAdjust="spacingAndGlyphs" stroke="#2a2a2a" stroke-width="0.12">0.5</text>
<line x1="280.00" y1="621.00" x2="283.20" y2="621.00" stroke="#262626" stroke-width="1.3"/>
<text x="277.40" y="623.38" font-size="8.6" text-anchor="end" textLength="11.40" lengthAdjust="spacingAndGlyphs" stroke="#2a2a2a" stroke-width="0.12">0.0</text>
<text x="249.20" y="585.50" font-size="10.0" text-anchor="middle" textLength="70.00" lengthAdjust="spacingAndGlyphs" transform="rotate(-90 249.20 585.50)" stroke="#2a2a2a" stroke-width="0.15"><tspan font-style="italic">GADD45A</tspan> expression</text>
<text x="261.60" y="587.00" font-size="10.0" text-anchor="middle" textLength="63.00" lengthAdjust="spacingAndGlyphs" transform="rotate(-90 261.60 587.00)" stroke="#2a2a2a" stroke-width="0.15">(relative to <tspan font-style="italic">GAPDH</tspan>)</text>
<line x1="282.70" y1="621.40" x2="376.90" y2="621.40" stroke="#262626" stroke-width="1.3"/>
<line x1="297.50" y1="621.40" x2="297.50" y2="624.00" stroke="#262626" stroke-width="1.1700000000000002"/>
<line x1="319.60" y1="621.40" x2="319.60" y2="624.00" stroke="#262626" stroke-width="1.1700000000000002"/>
<line x1="341.50" y1="621.40" x2="341.50" y2="624.00" stroke="#262626" stroke-width="1.1700000000000002"/>
<line x1="363.80" y1="621.40" x2="363.80" y2="624.00" stroke="#262626" stroke-width="1.1700000000000002"/>
<rect x="291.50" y="591.50" width="12.00" height="29.90" fill="#0e4c8c"/>
<line x1="297.50" y1="585.20" x2="297.50" y2="591.50" stroke="#222" stroke-width="0.9"/>
<line x1="294.50" y1="585.20" x2="300.50" y2="585.20" stroke="#222" stroke-width="0.9"/>
<rect x="313.60" y="586.70" width="12.00" height="34.70" fill="#0e4c8c"/>
<line x1="319.60" y1="581.90" x2="319.60" y2="586.70" stroke="#222" stroke-width="0.9"/>
<line x1="316.60" y1="581.90" x2="322.60" y2="581.90" stroke="#222" stroke-width="0.9"/>
<rect x="335.50" y="576.50" width="12.00" height="44.90" fill="#0e4c8c"/>
<line x1="341.50" y1="568.50" x2="341.50" y2="576.50" stroke="#222" stroke-width="0.9"/>
<line x1="338.50" y1="568.50" x2="344.50" y2="568.50" stroke="#222" stroke-width="0.9"/>
<rect x="357.80" y="592.90" width="12.00" height="28.50" fill="#0e4c8c"/>
<line x1="363.80" y1="586.70" x2="363.80" y2="592.90" stroke="#222" stroke-width="0.9"/>
<line x1="360.80" y1="586.70" x2="366.80" y2="586.70" stroke="#222" stroke-width="0.9"/>
<text x="295.40" y="556.70" font-size="7.8" textLength="24.00" lengthAdjust="spacingAndGlyphs" stroke="#2a2a2a" stroke-width="0.15">n = 12</text>
<text x="319.40" y="578.60" font-size="8.2" text-anchor="middle" textLength="11.00" lengthAdjust="spacingAndGlyphs" stroke="#2a2a2a" stroke-width="0.15">NS</text>
<text x="341.50" y="564.50" font-size="8.2" text-anchor="middle" textLength="11.00" lengthAdjust="spacingAndGlyphs" stroke="#2a2a2a" stroke-width="0.15">NS</text>
<text x="363.70" y="583.20" font-size="8.2" text-anchor="middle" textLength="11.00" lengthAdjust="spacingAndGlyphs" stroke="#2a2a2a" stroke-width="0.15">NS</text>
<text x="301.50" y="632.70" font-size="8.0" text-anchor="end" textLength="23.04" lengthAdjust="spacingAndGlyphs" transform="rotate(-45 301.50 632.70)" stroke="#2a2a2a" stroke-width="0.15">DMSO</text>
<text x="323.60" y="632.70" font-size="8.0" text-anchor="end" textLength="37.71" lengthAdjust="spacingAndGlyphs" transform="rotate(-45 323.60 632.70)" stroke="#2a2a2a" stroke-width="0.15">5 μM Fer-1</text>
<text x="345.50" y="632.70" font-size="8.0" text-anchor="end" textLength="38.57" lengthAdjust="spacingAndGlyphs" transform="rotate(-45 345.50 632.70)" stroke="#2a2a2a" stroke-width="0.15">3 μM RSL3</text>
<text x="367.80" y="632.70" font-size="8.0" text-anchor="end" textLength="46.31" lengthAdjust="spacingAndGlyphs" transform="rotate(-45 367.80 632.70)" stroke="#2a2a2a" stroke-width="0.15">Fer-1 + RSL3</text>
<line x1="420.80" y1="549.40" x2="420.80" y2="621.80" stroke="#262626" stroke-width="1.3"/>
<line x1="417.60" y1="552.00" x2="420.80" y2="552.00" stroke="#262626" stroke-width="1.3"/>
<text x="415.00" y="554.38" font-size="8.6" text-anchor="end" textLength="4.40" lengthAdjust="spacingAndGlyphs" stroke="#2a2a2a" stroke-width="0.12">5</text>
<line x1="417.60" y1="565.86" x2="420.80" y2="565.86" stroke="#262626" stroke-width="1.3"/>
<text x="415.00" y="568.24" font-size="8.6" text-anchor="end" textLength="4.40" lengthAdjust="spacingAndGlyphs" stroke="#2a2a2a" stroke-width="0.12">4</text>
<line x1="417.60" y1="579.72" x2="420.80" y2="579.72" stroke="#262626" stroke-width="1.3"/>
<text x="415.00" y="582.10" font-size="8.6" text-anchor="end" textLength="4.40" lengthAdjust="spacingAndGlyphs" stroke="#2a2a2a" stroke-width="0.12">3</text>
<line x1="417.60" y1="593.58" x2="420.80" y2="593.58" stroke="#262626" stroke-width="1.3"/>
<text x="415.00" y="595.96" font-size="8.6" text-anchor="end" textLength="4.40" lengthAdjust="spacingAndGlyphs" stroke="#2a2a2a" stroke-width="0.12">2</text>
<line x1="417.60" y1="607.44" x2="420.80" y2="607.44" stroke="#262626" stroke-width="1.3"/>
<text x="415.00" y="609.82" font-size="8.6" text-anchor="end" textLength="3.30" lengthAdjust="spacingAndGlyphs" stroke="#2a2a2a" stroke-width="0.12">1</text>
<line x1="417.60" y1="621.30" x2="420.80" y2="621.30" stroke="#262626" stroke-width="1.3"/>
<text x="415.00" y="623.68" font-size="8.6" text-anchor="end" textLength="4.40" lengthAdjust="spacingAndGlyphs" stroke="#2a2a2a" stroke-width="0.12">0</text>
<text x="393.50" y="586.00" font-size="10.0" text-anchor="middle" textLength="70.00" lengthAdjust="spacingAndGlyphs" transform="rotate(-90 393.50 586.00)" stroke="#2a2a2a" stroke-width="0.15"><tspan font-style="italic">GADD45A</tspan> expression</text>
<text x="405.60" y="587.00" font-size="10.0" text-anchor="middle" textLength="63.00" lengthAdjust="spacingAndGlyphs" transform="rotate(-90 405.60 587.00)" stroke="#2a2a2a" stroke-width="0.15">(relative to <tspan font-style="italic">GAPDH</tspan>)</text>
<line x1="420.30" y1="621.40" x2="513.30" y2="621.40" stroke="#262626" stroke-width="1.3"/>
<line x1="435.00" y1="621.40" x2="435.00" y2="624.00" stroke="#262626" stroke-width="1.1700000000000002"/>
<line x1="456.80" y1="621.40" x2="456.80" y2="624.00" stroke="#262626" stroke-width="1.1700000000000002"/>
<line x1="478.20" y1="621.40" x2="478.20" y2="624.00" stroke="#262626" stroke-width="1.1700000000000002"/>
<line x1="499.80" y1="621.40" x2="499.80" y2="624.00" stroke="#262626" stroke-width="1.1700000000000002"/>
<rect x="429.10" y="607.30" width="11.80" height="14.10" fill="#c8102e"/>
<line x1="435.00" y1="604.40" x2="435.00" y2="607.30" stroke="#222" stroke-width="0.9"/>
<line x1="432.00" y1="604.40" x2="438.00" y2="604.40" stroke="#222" stroke-width="0.9"/>
<rect x="450.90" y="601.50" width="11.80" height="19.90" fill="#c8102e"/>
<line x1="456.80" y1="597.70" x2="456.80" y2="601.50" stroke="#222" stroke-width="0.9"/>
<line x1="453.80" y1="597.70" x2="459.80" y2="597.70" stroke="#222" stroke-width="0.9"/>
<rect x="472.30" y="575.60" width="11.80" height="45.80" fill="#c8102e"/>
<line x1="478.20" y1="567.50" x2="478.20" y2="575.60" stroke="#222" stroke-width="0.9"/>
<line x1="475.20" y1="567.50" x2="481.20" y2="567.50" stroke="#222" stroke-width="0.9"/>
<rect x="493.90" y="596.70" width="11.80" height="24.70" fill="#c8102e"/>
<line x1="499.80" y1="595.40" x2="499.80" y2="596.70" stroke="#222" stroke-width="0.9"/>
<line x1="496.80" y1="595.40" x2="502.80" y2="595.40" stroke="#222" stroke-width="0.9"/>
<text x="433.80" y="556.70" font-size="7.8" textLength="18.50" lengthAdjust="spacingAndGlyphs" stroke="#2a2a2a" stroke-width="0.15">n = 6</text>
<text x="456.50" y="594.70" font-size="8.2" text-anchor="middle" textLength="11.00" lengthAdjust="spacingAndGlyphs" stroke="#2a2a2a" stroke-width="0.15">NS</text>
<text x="478.00" y="568.28" font-size="8.8" text-anchor="middle" stroke="#2a2a2a" stroke-width="0.15">***</text>
<text x="499.80" y="591.50" font-size="8.2" text-anchor="middle" textLength="11.00" lengthAdjust="spacingAndGlyphs" stroke="#2a2a2a" stroke-width="0.15">NS</text>
<text x="439.00" y="632.70" font-size="8.0" text-anchor="end" textLength="23.04" lengthAdjust="spacingAndGlyphs" transform="rotate(-45 439.00 632.70)" stroke="#2a2a2a" stroke-width="0.15">DMSO</text>
<text x="460.80" y="632.70" font-size="8.0" text-anchor="end" textLength="37.71" lengthAdjust="spacingAndGlyphs" transform="rotate(-45 460.80 632.70)" stroke="#2a2a2a" stroke-width="0.15">5 μM Fer-1</text>
<text x="482.20" y="632.70" font-size="8.0" text-anchor="end" textLength="38.57" lengthAdjust="spacingAndGlyphs" transform="rotate(-45 482.20 632.70)" stroke="#2a2a2a" stroke-width="0.15">3 μM RSL3</text>
<text x="503.80" y="632.70" font-size="8.0" text-anchor="end" textLength="46.31" lengthAdjust="spacingAndGlyphs" transform="rotate(-45 503.80 632.70)" stroke="#2a2a2a" stroke-width="0.15">Fer-1 + RSL3</text>
<rect x="0" y="0" width="520" height="1.1" fill="#4a4a4a"/><rect x="0" y="0" width="1.2" height="673" fill="#4a4a4a"/><rect x="518.6" y="0" width="1.4" height="673" fill="#4a4a4a"/><rect x="0" y="671.9" width="520" height="1.1" fill="#4a4a4a"/>
</svg></body></html>
